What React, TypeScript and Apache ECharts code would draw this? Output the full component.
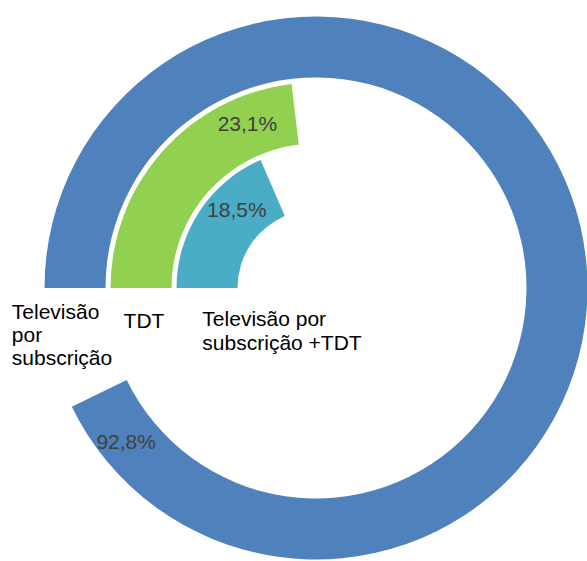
import React, { useEffect, useRef } from 'react';
import * as echarts from 'echarts';

// inner ring -> outer ring
const categories = ['Televisão por subscrição +TDT', 'TDT', 'Televisão por subscrição'];
const tickLabels = [
  ['Televisão por', 'subscrição +TDT'],
  ['TDT'],
  ['Televisão', 'por', 'subscrição'],
];
const values = [18.5, 23.1, 92.8];
const colors = ['#4BACC6', '#92D050', '#4F81BD'];

// per-ring placement tweaks (styling only)
const tickLabelStyles = [
  { align: 'center', verticalAlign: 'top', padding: [6, 0, 0, 150] },
  { align: 'center', verticalAlign: 'top', padding: [9, 0, 0, 6] },
  { align: 'center', verticalAlign: 'top', padding: [0, 26, 0, 0] },
];
const tickLineHeights = [24, 23, 23];
const valueLabelOffsets = [
  [-1.5, 19.5],
  [-13, 8.5],
  [54.5, 43.5],
];

const fmt = (v: number) => v.toFixed(1).replace('.', ',') + '%';
const FONT = 'Liberation Sans';
const FS = 21;

export default function App() {
  const ref = useRef<HTMLDivElement>(null);
  useEffect(() => {
    const chart = echarts.init(ref.current!, null, { renderer: 'svg' });
    const rich: Record<string, any> = {};
    tickLineHeights.forEach((lh, i) => {
      rich['t' + i] = {
        align: 'left',
        fontFamily: FONT,
        fontSize: FS,
        lineHeight: lh,
        color: '#000',
      };
    });
    chart.setOption({
      animation: false,
      polar: { center: [316, 288], radius: [76, 274] },
      angleAxis: {
        type: 'value',
        min: 0,
        max: 100,
        startAngle: 180,
        clockwise: true,
        show: false,
      },
      radiusAxis: {
        type: 'category',
        data: categories.map((c, i) => ({ value: c, textStyle: tickLabelStyles[i] })),
        axisLine: { show: false },
        axisTick: { show: false },
        splitLine: { show: false },
        axisLabel: {
          interval: 0,
          hideOverlap: false,
          formatter: (v: string) => {
            const i = categories.indexOf(v);
            return tickLabels[i].map((l) => `{t${i}|${l}}`).join('\n');
          },
          rich,
          fontFamily: FONT,
          fontSize: FS,
          color: '#000',
          margin: 12,
        },
        z: 10,
      },
      series: [
        {
          type: 'bar',
          coordinateSystem: 'polar',
          barWidth: 61,
          data: values.map((v, i) => ({
            value: v,
            itemStyle: { color: colors[i] },
            label: { offset: valueLabelOffsets[i] },
          })),
          label: {
            show: true,
            position: 'insideEnd',
            rotate: 0,
            formatter: (p: any) => fmt(p.value),
            color: '#404040',
            fontSize: FS,
            fontFamily: FONT,
          },
        },
      ],
    });
    return () => chart.dispose();
  }, []);
  return (
    <div
      ref={ref}
      style={{ position: 'fixed', left: 0, top: 0, width: 587, height: 561, background: '#fff' }}
    />
  );
}
